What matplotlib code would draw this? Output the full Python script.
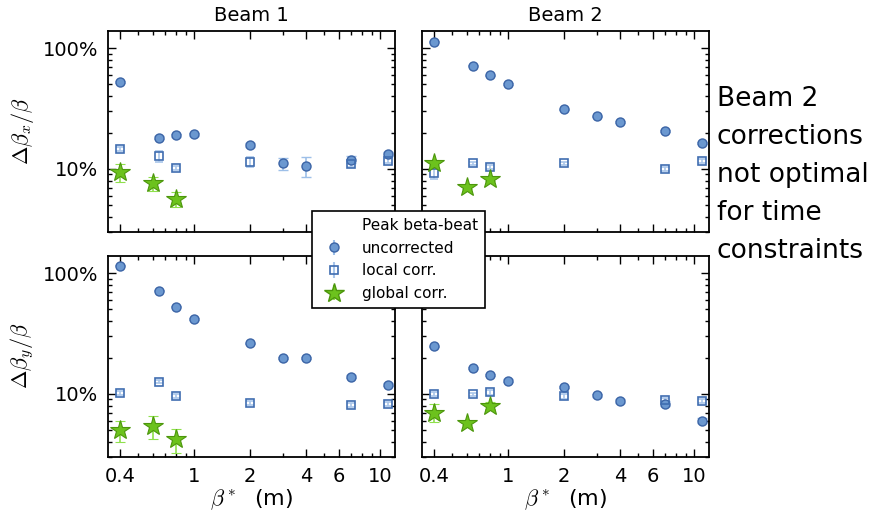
import numpy as np
import matplotlib
matplotlib.use("Agg")
import matplotlib.pyplot as plt
from matplotlib.ticker import FixedLocator, FixedFormatter, NullFormatter
from matplotlib.lines import Line2D

plt.rcParams["mathtext.fontset"] = "cm"

# beta* values (m)
beta = [0.4, 0.65, 0.8, 1.0, 2.0, 3.0, 4.0, 7.0, 11.0]
beta_loc = [0.4, 0.65, 0.8, 2.0, 7.0, 11.0]
beta_glob = [0.4, 0.6, 0.8]

# peak beta-beat in %  (rows: x / y plane, cols: beam 1 / beam 2)
b1x_unc = [52.4, 18.1, 19.0, 19.3, 15.8, 11.1, 10.6, 11.9, 13.3]
b1x_unc_err = [0.6, 0.5, 0.5, 0.5, 0.5, 1.3, 2.0, 0.8, 0.4]
b1x_loc = [14.6, 12.7, 10.2, 11.4, 10.9, 11.7]
b1x_loc_err = [0.5, 1.3, 0.4, 1.1, 0.5, 0.5]
b1x_glob = [9.4, 7.6, 5.6]
b1x_glob_err = [1.6, 1.0, 0.8]

b2x_unc = [113.0, 71.8, 59.4, 50.4, 31.1, 27.2, 24.4, 20.5, 16.4]
b2x_unc_err = [1.0, 0.8, 0.7, 0.6, 0.5, 0.4, 0.4, 0.3, 0.3]
b2x_loc = [9.3, 11.1, 10.3, 11.1, 10.0, 11.6]
b2x_loc_err = [1.1, 0.4, 0.4, 0.4, 0.4, 0.4]
b2x_glob = [11.2, 7.1, 8.2]
b2x_glob_err = [0.4, 0.3, 0.3]

b1y_unc = [114.8, 71.4, 52.6, 41.7, 26.2, 19.9, 19.8, 13.9, 11.9]
b1y_unc_err = [1.0, 0.8, 0.6, 0.5, 0.4, 0.3, 0.3, 0.3, 0.3]
b1y_loc = [10.2, 12.6, 9.6, 8.4, 8.1, 8.2]
b1y_loc_err = [0.4, 0.4, 0.4, 0.3, 0.3, 0.3]
b1y_glob = [5.0, 5.4, 4.2]
b1y_glob_err = [1.0, 1.2, 0.95]

b2y_unc = [24.7, 16.4, 14.3, 12.9, 11.4, 9.7, 8.75, 8.3, 6.0]
b2y_unc_err = [0.4, 0.3, 0.3, 0.3, 0.3, 0.3, 0.3, 0.4, 0.3]
b2y_loc = [10.0, 9.9, 10.3, 9.55, 8.85, 8.7]
b2y_loc_err = [0.4, 0.3, 0.5, 0.4, 0.4, 0.3]
b2y_glob = [7.0, 5.75, 8.0]
b2y_glob_err = [1.2, 0.2, 0.5]

panels = [
    [(b1x_unc, b1x_unc_err, b1x_loc, b1x_loc_err, b1x_glob, b1x_glob_err),
     (b2x_unc, b2x_unc_err, b2x_loc, b2x_loc_err, b2x_glob, b2x_glob_err)],
    [(b1y_unc, b1y_unc_err, b1y_loc, b1y_loc_err, b1y_glob, b1y_glob_err),
     (b2y_unc, b2y_unc_err, b2y_loc, b2y_loc_err, b2y_glob, b2y_glob_err)],
]

x_major = [0.4, 1, 2, 4, 6, 10]
x_major_labels = ["0.4", "1", "2", "4", "6", "10"]
x_minor = [0.5, 0.6, 0.7, 0.8, 0.9, 3, 5, 7, 8, 9]
y_major = [10, 100]
y_major_labels = ["10%", "100%"]
y_minor = [3, 4, 5, 6, 7, 8, 9, 20, 30, 40, 50, 60, 70, 80, 90]

titles = ["Beam 1", "Beam 2"]
ylabels = [r"$\Delta\beta_x/\beta$", r"$\Delta\beta_y/\beta$"]
note = "Beam 2\ncorrections\nnot optimal\nfor time\nconstraints"

c_unc, c_unc_edge, c_unc_err = "#6b98d0", "#3b64a6", "#9dbfe8"
c_loc, c_loc_err = "#3f6db0", "#a9c6ea"
c_glob, c_glob_edge, c_glob_err = "#6cc21d", "#4c960c", "#8fe04c"

fig = plt.figure(figsize=(8.69, 5.18), dpi=100)
W, H = 869.0, 518.0
lefts = [108 / W, 422 / W]
bottoms = [1 - 232 / H, 1 - 457 / H]
w, h = 287 / W, 201.5 / H

for r in range(2):
    for c in range(2):
        ax = fig.add_axes([lefts[c], bottoms[r], w, h])
        unc, unc_e, loc, loc_e, glob, glob_e = panels[r][c]
        ax.errorbar(beta, unc, yerr=unc_e, fmt="o", ms=6.5, mfc=c_unc,
                    mec=c_unc_edge, mew=1.0, ecolor=c_unc_err, elinewidth=1.2,
                    capsize=3.5, capthick=1.2, zorder=3)
        ax.errorbar(beta_loc, loc, yerr=loc_e, fmt="s", ms=6, mfc="none",
                    mec=c_loc, mew=1.2, ecolor=c_loc_err, elinewidth=1.2,
                    capsize=3, capthick=1.2, zorder=3)
        ax.errorbar(beta_glob, glob, yerr=glob_e, fmt="*", ms=15, mfc=c_glob,
                    mec=c_glob_edge, mew=0.8, ecolor=c_glob_err, elinewidth=1.2,
                    capsize=3.5, capthick=1.2, zorder=4)
        ax.set_xscale("log")
        ax.set_yscale("log")
        ax.set_xlim(0.345, 12.0)
        ax.set_ylim(3.0, 140)
        ax.xaxis.set_major_locator(FixedLocator(x_major))
        ax.xaxis.set_minor_locator(FixedLocator(x_minor))
        ax.yaxis.set_major_locator(FixedLocator(y_major))
        ax.yaxis.set_minor_locator(FixedLocator(y_minor))
        ax.xaxis.set_minor_formatter(NullFormatter())
        ax.yaxis.set_minor_formatter(NullFormatter())
        if r == 1:
            ax.xaxis.set_major_formatter(FixedFormatter(x_major_labels))
            ax.set_xlabel(r"$\beta^*$  (m)", fontsize=16, labelpad=1)
        else:
            ax.xaxis.set_major_formatter(NullFormatter())
            ax.set_title(titles[c], fontsize=14, pad=7)
        if c == 0:
            ax.yaxis.set_major_formatter(FixedFormatter(y_major_labels))
            ax.set_ylabel(ylabels[r], fontsize=16, labelpad=5)
        else:
            ax.yaxis.set_major_formatter(NullFormatter())
        ax.tick_params(which="both", direction="in", top=True, right=True,
                       labelsize=14, width=1.0)
        ax.tick_params(which="major", length=6, pad=7)
        ax.tick_params(which="minor", length=3)
        for s in ax.spines.values():
            s.set_linewidth(1.3)

h_empty = Line2D([], [], linestyle="none", marker="none")
h_unc = plt.errorbar([], [], yerr=[], fmt="o", ms=6.5, mfc=c_unc, mec=c_unc_edge,
                     ecolor=c_unc_err, capsize=3.5)
h_loc = plt.errorbar([], [], yerr=[], fmt="s", ms=6, mfc="none", mec=c_loc,
                     mew=1.2, ecolor=c_loc_err, capsize=3)
h_glob = plt.errorbar([], [], yerr=[], fmt="*", ms=15, mfc=c_glob,
                      mec=c_glob_edge, ecolor=c_glob_err, capsize=3.5)

leg = fig.legend([h_empty, h_unc, h_loc, h_glob],
                 ["Peak beta-beat", "uncorrected", "local corr.", "global corr."],
                 loc="center", bbox_to_anchor=(398.5 / W, 1 - 259.5 / H),
                 fontsize=11, frameon=True, fancybox=False, framealpha=1,
                 edgecolor="black", numpoints=1, handlelength=2.0,
                 borderpad=0.45, labelspacing=0.5)
leg.get_frame().set_linewidth(1.2)
leg.set_zorder(10)

fig.text(717 / W, 1 - 175 / H, note, fontsize=19, ha="left", va="center",
         linespacing=1.6)

fig.savefig("out.png", dpi=100)
